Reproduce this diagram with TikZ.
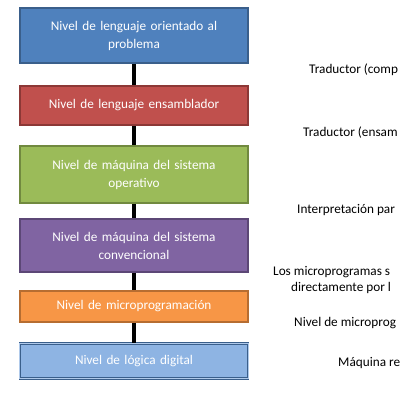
\documentclass[tikz,border=0pt]{standalone}
\usepackage{fontspec}
\setmainfont{Carlito}
\usepackage{xcolor}
\usepackage{tikz}
\usetikzlibrary{positioning}
\definecolor{azul}{HTML}{4F81BD}
\definecolor{azulborde}{HTML}{3A5F8B}
\definecolor{rojo}{HTML}{C0504D}
\definecolor{rojoborde}{HTML}{8C3836}
\definecolor{verde}{HTML}{9BBB59}
\definecolor{verdeborde}{HTML}{71893F}
\definecolor{morado}{HTML}{8064A2}
\definecolor{moradoborde}{HTML}{5C4776}
\definecolor{naranja}{HTML}{F79646}
\definecolor{naranjaborde}{HTML}{B66D31}
\definecolor{celeste}{HTML}{8EB4E3}
\definecolor{celesteclaro}{HTML}{B0CAEB}

\begin{document}
\begin{tikzpicture}[x=1bp, y=-1bp,
    nivel/.style={draw, line width=1.5bp, text=white, align=center,
      minimum width=228bp, text width=220bp, inner sep=0pt,
      font=\fontsize{13.3}{18}\selectfont},
    nota/.style={anchor=west, inner sep=0pt, align=left,
      font=\fontsize{13.3}{16}\selectfont}]
    \clip (0,0) rectangle (400,400);

    % niveles
    \node[nivel, fill=azul, draw=azulborde, minimum height=55bp] (problema) at (134,35.5)
      {Nivel de lenguaje orientado al\\problema};
    \node[nivel, fill=rojo, draw=rojoborde, minimum height=39bp] (ensamblador) at (134,105.5)
      {Nivel de lenguaje ensamblador};
    \node[nivel, fill=verde, draw=verdeborde, minimum height=57bp] (operativo) at (134,174.5)
      {Nivel de máquina del sistema\\operativo};
    \node[nivel, fill=morado, draw=moradoborde, minimum height=53bp] (convencional) at (134,245.5)
      {Nivel de máquina del sistema\\convencional};
    \node[nivel, fill=naranja, draw=naranjaborde, minimum height=31bp] (micro) at (134,306.5)
      {Nivel de microprogramación};
    \node[nivel, fill=celeste, draw=azulborde, line width=0.9bp, double=celesteclaro,
          double distance=1bp, minimum height=35bp] (digital) at (134,361)
      {Nivel de lógica digital};

    % uniones
    \draw[line width=4bp] (problema.south) -- (ensamblador.north);
    \draw[line width=4bp] (ensamblador.south) -- (operativo.north);
    \draw[line width=4bp] (operativo.south) -- (convencional.north);
    \draw[line width=4bp] (convencional.south) -- (micro.north);
    \draw[line width=4bp] (micro.south) -- (digital.north);

    % notas de la derecha
    \node[nota] (trad1) at (309,70) {Traductor (comp};
    \node[nota] (trad2) at (303,133) {Traductor (ensam};
    \node[nota] (interp) at (297,210) {Interpretación par};
    \node[nota] (micros) at (273,280)
      {Los microprogramas s\\\hspace*{18bp}directamente por l};
    \node[nota] (nivmicro) at (294,323) {Nivel de microprog};
    \node[nota] (real) at (338,363) {Máquina re};
\end{tikzpicture}
\end{document}
